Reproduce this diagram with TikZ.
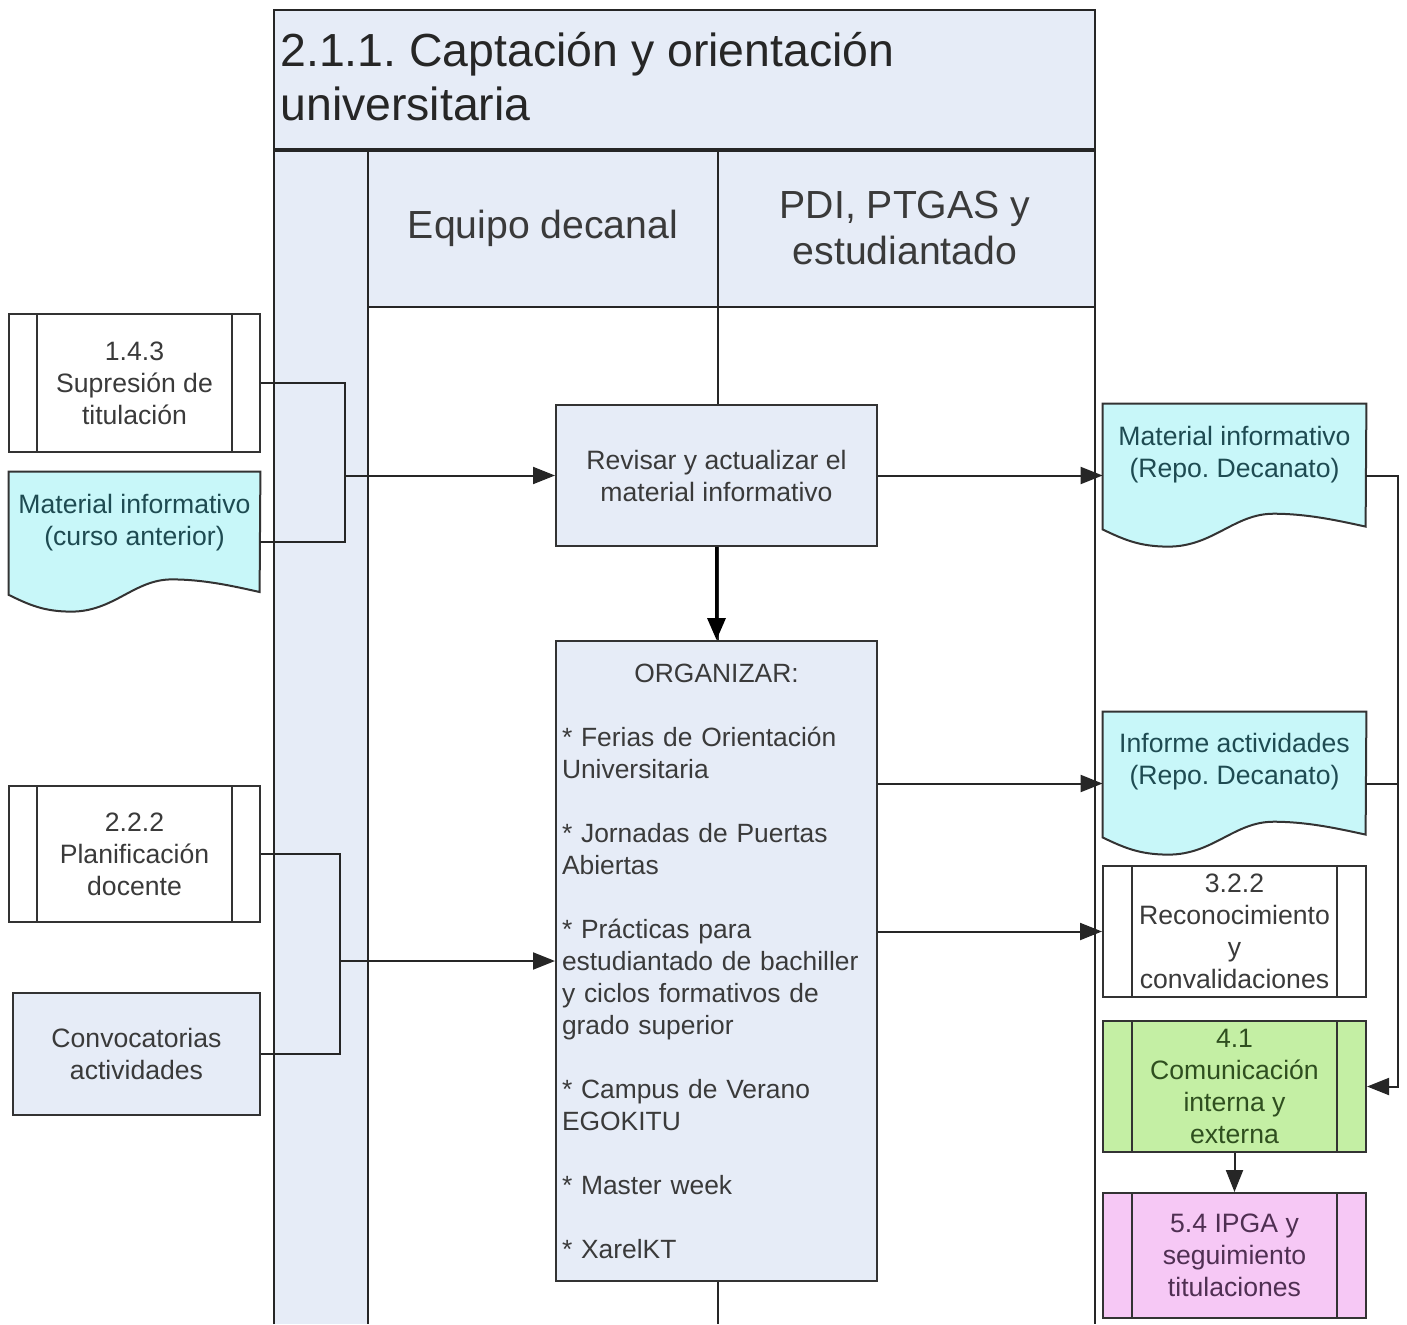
\documentclass[tikz,border=0pt]{standalone}
\usepackage{fontspec}
\setmainfont{Liberation Sans}
\usetikzlibrary{arrows.meta,calc}
\frenchspacing
\definecolor{laneblue}{HTML}{E6ECF7}
\definecolor{docfill}{HTML}{C8F7F9}
\definecolor{greenfill}{HTML}{C4EFA4}
\definecolor{pinkfill}{HTML}{F6C8F5}
\definecolor{linegray}{HTML}{262626}
\definecolor{boxgray}{HTML}{333333}
\definecolor{txtgray}{HTML}{3A3A3A}
\definecolor{docteal}{HTML}{1E4B52}
\definecolor{greentxt}{HTML}{2F4F1F}
\definecolor{pinktxt}{HTML}{4F2F52}
\newcommand\docoutline[3]{%
  \draw[boxline, fill=docfill] (#1.north west) -- (#1.north east)
    -- ($(#1.north west)+(#2,0.86*#3)$)
    .. controls ($(#1.north west)+(0.9*#2,0.82*#3)$) and ($(#1.north west)+(0.78*#2,0.77*#3)$) .. ($(#1.north west)+(0.65*#2,0.77*#3)$)
    .. controls ($(#1.north west)+(0.5*#2,0.77*#3)$) and ($(#1.north west)+(0.42*#2,#3)$) .. ($(#1.north west)+(0.25*#2,#3)$)
    .. controls ($(#1.north west)+(0.14*#2,#3)$) and ($(#1.north west)+(0.08*#2,0.95*#3)$) .. ($(#1.north west)+(0,0.88*#3)$)
    -- cycle;}
\newcommand\subbars[2]{%
  \draw[boxline] ($(#1.north west)+(#2,0)$) -- ($(#1.south west)+(#2,0)$);
  \draw[boxline] ($(#1.north east)+(-#2,0)$) -- ($(#1.south east)+(-#2,0)$);}
\begin{document}
\frenchspacing
\begin{tikzpicture}[x=0.5pt,y=-0.5pt,
  pool/.style={draw=linegray, line width=1.3pt},
  lane/.style={draw=linegray, line width=1pt},
  boxline/.style={draw=boxgray, line width=1pt},
  smalltxt/.style={font=\fontsize{13.3}{16}\selectfont, align=center},
  box/.style={boxline, fill=laneblue, text=txtgray, smalltxt, inner sep=0pt},
  subbox/.style={box, fill=white},
  docshape/.style={inner sep=0pt, draw=none},
  doctext/.style={smalltxt, text=docteal, inner sep=0pt},
  head/.style={font=\fontsize{19.6}{23}\selectfont, align=center, text=txtgray, inner sep=0pt},
  conn/.style={draw=linegray, line width=1pt},
  arr/.style={conn, -{Triangle[length=11pt,width=8.5pt]}},
  arrthick/.style={draw=black, line width=1.7pt, -{Triangle[length=11pt,width=9pt]}}
]
\useasboundingbox (0,0) rectangle (1407,1324);
% pool
\fill[laneblue] (274,10) rectangle (1095,150);
\fill[laneblue] (274,150) rectangle (368,1324);
\fill[laneblue] (368,150) rectangle (1095,307);
\draw[lane] (368,150) -- (368,1324);
\draw[lane] (718,150) -- (718,1324);
\draw[lane] (368,307) -- (1095,307);
\draw[pool] (274,1324) -- (274,10) -- (1095,10) -- (1095,1324);
\draw[pool, line width=2pt] (274,150) -- (1095,150);
\node[font=\fontsize{23.2}{27}\selectfont, align=left, text=linegray, anchor=west, inner sep=0pt] (title) at (280,77)
  {2.1.1. Captación y orientación\\universitaria};
\node[head] (lane1) at (543,228) {Equipo decanal};
\node[head] (lane2) at (905,228) {PDI, PTGAS y\\estudiantado};

% central process boxes
\node[box, minimum width=160.5pt, minimum height=70.5pt] (rev) at (716.5,475.5)
  {Revisar y actualizar el\\material informativo};
\node[box, minimum width=160.5pt, minimum height=320pt, text width=154.5pt, align=left,
  font=\fontsize{13.2}{16}\selectfont] (org) at (716.5,961)
  {\makebox[\linewidth]{ORGANIZAR:}\\[16pt]
   * Ferias de Orientación\\Universitaria\\[16pt]
   * Jornadas de Puertas\\Abiertas\\[16pt]
   * Prácticas para\\estudiantado de bachiller\\y ciclos formativos de\\grado superior\\[16pt]
   * Campus de Verano\\EGOKITU\\[16pt]
   * Master week\\[16pt]
   * XarelKT};

% left inputs
\node[subbox, minimum width=125.5pt, minimum height=69pt] (s143) at (134.5,383)
  {1.4.3\\Supresión de\\titulación};
\subbars{s143}{29}
\node[docshape, minimum width=125.5pt, minimum height=70pt] (mica) at (134.5,542) {};
\docoutline{mica}{251}{140}
\node[doctext] (micat) at (134.5,523) {Material informativo\\(curso anterior)};

\node[subbox, minimum width=125.5pt, minimum height=68pt] (s222) at (134.5,854)
  {2.2.2\\Planificación\\docente};
\subbars{s222}{29}
\node[box, minimum width=123.5pt, minimum height=61pt] (conv) at (136.5,1054)
  {Convocatorias\\actividades};

% right outputs
\node[docshape, minimum width=131.5pt, minimum height=71.5pt] (mir) at (1234.5,475.5) {};
\docoutline{mir}{263}{143}
\node[doctext] (mirt) at (1234.5,455) {Material informativo\\(Repo. Decanato)};
\node[docshape, minimum width=131.5pt, minimum height=71.5pt] (ia) at (1234.5,783.5) {};
\docoutline{ia}{263}{143}
\node[doctext] (iat) at (1234.5,762) {Informe actividades\\(Repo. Decanato)};
\node[subbox, minimum width=131.5pt, minimum height=65.5pt] (s322) at (1234.5,931.5)
  {3.2.2\\Reconocimiento\\y\\convalidaciones};
\subbars{s322}{30}
\node[subbox, fill=greenfill, text=greentxt, minimum width=131.5pt, minimum height=65.5pt] (s41) at (1234.5,1086.5)
  {4.1\\Comunicación\\interna y\\externa};
\subbars{s41}{30}
\node[subbox, fill=pinkfill, text=pinktxt, minimum width=131.5pt, minimum height=62.5pt] (s54) at (1234.5,1255.5)
  {5.4 IPGA y\\seguimiento\\titulaciones};
\subbars{s54}{30}

% connectors
\coordinate (lb1) at (345,475.5);
\coordinate (lb2) at (340,961);
\coordinate (rb) at (1398,0);
\draw[conn] (s143.east) -| (lb1);
\draw[conn] (mica.east) -| (lb1);
\draw[arr] (lb1) -- (rev.west);
\draw[conn] (s222.east) -| (lb2);
\draw[conn] (conv.east) -| (lb2);
\draw[arr] (lb2) -- (org.west);
\draw[arr] (rev.east) -- (mir.west);
\draw[arrthick] (rev.south) -- (org.north);
\draw[arr] (org.east |- ia.west) -- (ia.west);
\draw[arr] (org.east |- s322.west) -- (s322.west);
\draw[arr] (mir.east) -- (mir.east -| rb) |- (s41.east);
\draw[conn] (ia.east) -- (ia.east -| rb);
\draw[arr] (s41.south) -- (s54.north);
\end{tikzpicture}
\end{document}
